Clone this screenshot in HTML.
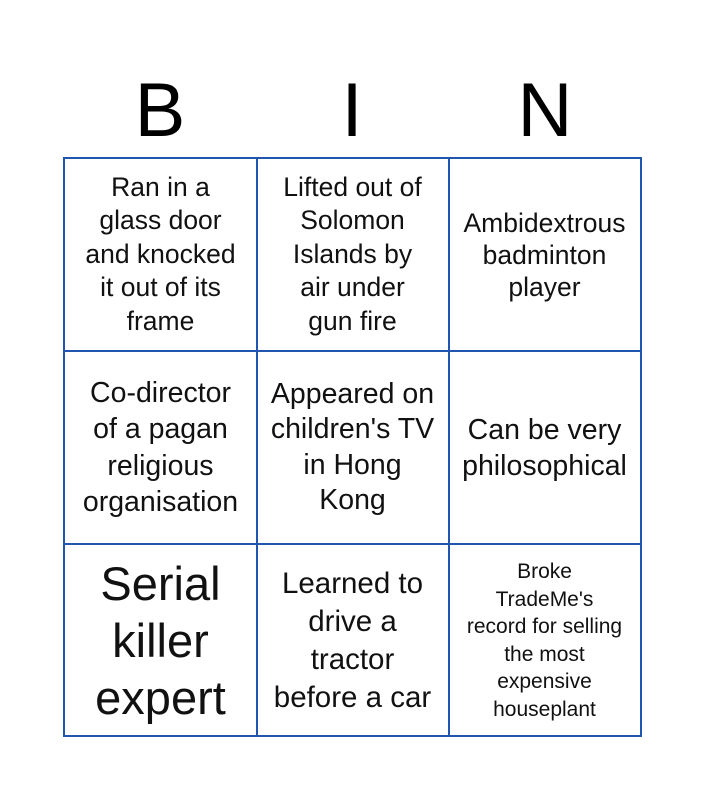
<!DOCTYPE html>
<html><head><style>
body{margin:0;width:705px;height:800px;background:#fff;font-family:"Liberation Sans",Arial,sans-serif;position:relative;overflow:hidden}
.h{position:absolute;top:68px;font-size:76px;line-height:86px;width:120px;text-align:center;color:#000}
.c{position:absolute;width:193px;height:193px;display:flex;align-items:center;justify-content:center;text-align:center;color:#111;white-space:nowrap}
.v{position:absolute;top:158px;width:2px;height:579px;background:#2056b0}
.hl{position:absolute;left:63px;width:579px;height:2px;background:#2056b0}
</style></head><body>
<div class="h" style="left:100px">B</div>
<div class="h" style="left:292px">I</div>
<div class="h" style="left:485px">N</div>

<div class="c" style="left:64px;top:158px;font-size:26.5px;line-height:33.5px">Ran in a<br>glass door<br>and knocked<br>it out of its<br>frame</div>
<div class="c" style="left:256px;top:158px;font-size:26.5px;line-height:33.5px">Lifted out of<br>Solomon<br>Islands by<br>air under<br>gun fire</div>
<div class="c" style="left:448px;top:158px;font-size:26.5px;line-height:32px">Ambidextrous<br>badminton<br>player</div>

<div class="c" style="left:64px;top:351px;font-size:28.5px;line-height:36.5px">Co-director<br>of a pagan<br>religious<br>organisation</div>
<div class="c" style="left:256px;top:351px;font-size:28.5px;line-height:35.5px">Appeared on<br>children's TV<br>in Hong<br>Kong</div>
<div class="c" style="left:448px;top:351px;font-size:28.5px;line-height:36px">Can be very<br>philosophical</div>

<div class="c" style="left:64px;top:544px;font-size:47px;line-height:57px">Serial<br>killer<br>expert</div>
<div class="c" style="left:256px;top:544px;font-size:29.5px;line-height:38px">Learned to<br>drive a<br>tractor<br>before a car</div>
<div class="c" style="left:448px;top:544px;font-size:21px;line-height:27.5px">Broke<br>TradeMe's<br>record for selling<br>the most<br>expensive<br>houseplant</div>

<div class="v" style="left:63px"></div>
<div class="v" style="left:255.5px"></div>
<div class="v" style="left:448px"></div>
<div class="v" style="left:640px"></div>
<div class="hl" style="top:157px"></div>
<div class="hl" style="top:350px"></div>
<div class="hl" style="top:543px"></div>
<div class="hl" style="top:735px"></div>
</body></html>
